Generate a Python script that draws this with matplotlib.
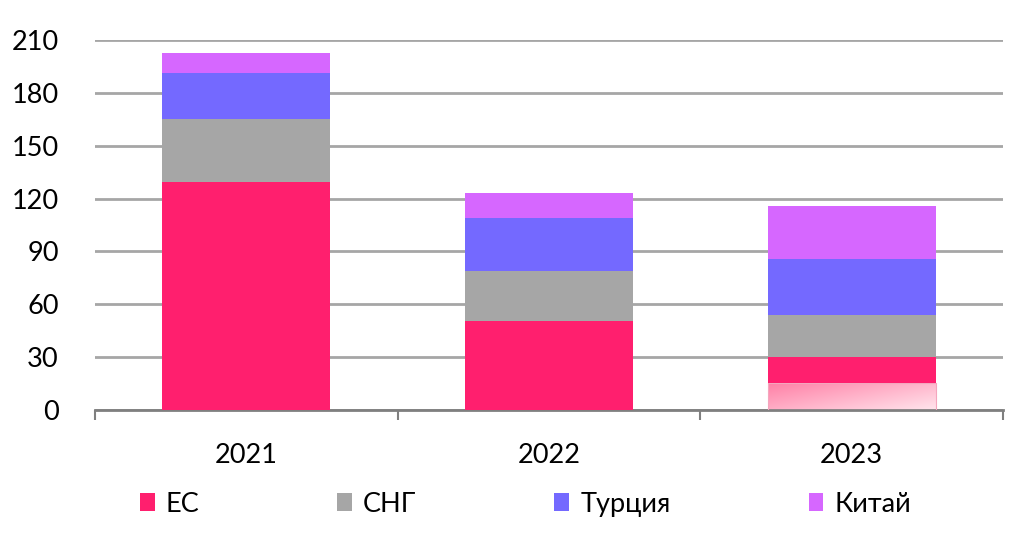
import numpy as np
import matplotlib.pyplot as plt

years = ["2021", "2022", "2023"]
es_light = [0, 0, 15.3]      # lighter (gradient) part of ЕС
es = [129.5, 50.5, 14.7]
sng = [35.5, 28.5, 24]
turkey = [26.5, 30, 31.5]
china = [11, 14, 30]

labels = ["ЕС", "СНГ", "Турция", "Китай"]
colors = ["#ff1f6e", "#a6a6a6", "#7469ff", "#d667ff"]

plt.rcParams['font.family'] = ['Lato', 'DejaVu Sans']

fig = plt.figure(figsize=(10.3, 5.33), dpi=100)
ax = fig.add_axes([0.092, 0.231, 0.882, 0.694])

x = np.arange(len(years))
w = 0.556

# gradient part at the bottom of 2023
bottom = np.zeros(len(years))
light = ax.bar(x, es_light, w, bottom=bottom, color="none", edgecolor="#f4a6be", linewidth=0.8, zorder=3)
grad = np.linspace(0, 1, 256)
gx, gy = np.meshgrid(grad, grad)
g = 0.55 * gx + 0.45 * (1 - gy)
c0 = np.array([1.0, 0.50, 0.65])
c1 = np.array([1.0, 0.90, 0.93])
img = c0[None, None, :] * (1 - g[..., None]) + c1[None, None, :] * g[..., None]
for xi, v, p in zip(x, es_light, light):
    if v > 0:
        im = ax.imshow(img, extent=[xi - w / 2, xi + w / 2, v, 0], aspect="auto", zorder=2.5)
        im.set_clip_path(p)
bottom += np.array(es_light)

handles = []
for vals, col, lab in zip([es, sng, turkey, china], colors, labels):
    b = ax.bar(x, vals, w, bottom=bottom, color=col, label=lab, zorder=3)
    handles.append(b)
    bottom += np.array(vals)

ax.set_xlim(-0.5, 2.5)
ax.set_ylim(0, 210)
ax.set_yticks(range(0, 211, 30))
ax.yaxis.grid(True, color="#a6a6a6", linewidth=2)
ax.set_axisbelow(True)
for s in ["top", "right", "left"]:
    ax.spines[s].set_visible(False)
ax.spines["bottom"].set_color("#7f7f7f")
ax.spines["bottom"].set_linewidth(2)
ax.tick_params(axis="y", length=0, pad=26, labelsize=19.5)
ax.set_xticks(x)
ax.set_xticklabels(years)
ax.tick_params(axis="x", length=0, pad=24, labelsize=19.5)
ax.set_xticks([-0.5, 0.5, 1.5, 2.5], minor=True)
ax.tick_params(axis="x", which="minor", length=7, width=1.5, color="#7f7f7f")

ax.legend(handles, labels, loc="upper center", bbox_to_anchor=(0.474, -0.155), ncol=4,
          frameon=False, fontsize=19.5, handlelength=0.55, handleheight=0.6,
          handletextpad=0.4, columnspacing=5.1)

fig.savefig("out.png", dpi=100)
